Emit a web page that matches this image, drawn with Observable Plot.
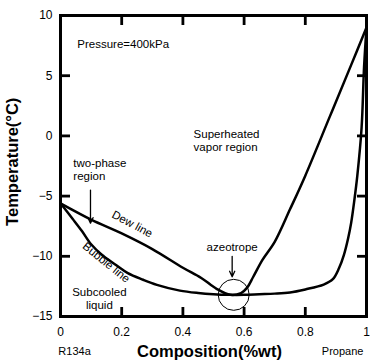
<!DOCTYPE html>
<html><head><meta charset="utf-8">
<script src="https://cdn.jsdelivr.net/npm/d3@7"></script>
<script src="https://cdn.jsdelivr.net/npm/@observablehq/plot@0.6"></script>
<style>body{margin:0;background:#fff} svg{display:block}</style>
</head><body><div id="chart"></div>
<script>
// Dew line (vapor) data
const dewComp = [0, 0.1, 0.2, 0.3, 0.4, 0.46, 0.51, 0.555, 0.59, 0.61, 0.63, 0.66, 0.7, 0.75, 0.8, 0.88, 0.95, 1];
const dewTemp = [-5.6, -6.95, -8.1, -9.4, -10.95, -11.8, -12.7, -13.2, -13.05, -12.6, -11.7, -10.3, -8.8, -6.1, -3.3, 1.6, 5.9, 9.0];
// Bubble line (liquid) data
const bubbleComp = [0, 0.04, 0.07, 0.1, 0.135, 0.18, 0.22, 0.27, 0.315, 0.39, 0.45, 0.5, 0.55, 0.6, 0.65, 0.7, 0.75, 0.8, 0.86, 0.89, 0.91, 0.926, 0.94, 0.95, 0.96, 0.97, 0.984, 0.992, 1];
const bubbleTemp = [-5.6, -6.9, -7.9, -9.0, -9.87, -10.7, -11.4, -11.95, -12.37, -12.85, -13.05, -13.15, -13.2, -13.2, -13.15, -13.1, -13.0, -12.75, -12.35, -11.9, -11.0, -9.9, -8.5, -7.2, -5.4, -3.3, 0.7, 5.7, 9.0];
// Axis ticks
const xTicks = [0, 0.2, 0.4, 0.6, 0.8, 1];
const yTicks = [-15, -10, -5, 0, 5, 10];
const xInner = [0.2, 0.4, 0.6, 0.8];
const yInner = [-10, -5, 0, 5];
// Annotations
const azeo = [{x: 0.566, y: -13.2}];
const arrows = [
  {x1: 0.098, y1: -4.5, x2: 0.098, y2: -7.25},
  {x1: 0.561, y1: -10.0, x2: 0.561, y2: -11.7}
];
const notesStart = [
  {x: 0.055, y: 7.67, text: "Pressure=400kPa"},
  {x: 0.042, y: -2.8, text: "two-phase\nregion"},
  {x: 0.435, y: -0.4, text: "Superheated\nvapor region"}
];
const notesMiddle = [
  {x: 0.127, y: -13.5, text: "Subcooled\nliquid", rotate: 0},
  {x: 0.561, y: -9.25, text: "azeotrope", rotate: 0},
  {x: 0.235, y: -7.3, text: "Dew line", rotate: 28},
  {x: 0.15, y: -10.5, text: "Bubble line", rotate: 39}
];
const leftEnd = [{x: -0.007, y: -17.9, text: "R134a"}];
const rightEnd = [{x: 0.99, y: -17.9, text: "Propane"}];
const xTitle = [{x: 0.487, y: -17.9, text: "Composition(%wt)"}];
const yTitle = [{x: -0.155, y: -2.15, text: "Temperature(°C)"}];

// inward tick length (≈9.5 px) expressed in data units of each axis
const x0 = xTicks[0], x1 = xTicks[xTicks.length - 1];
const y0 = yTicks[0], y1 = yTicks[yTicks.length - 1];
const tickLenX = 9.5 * (x1 - x0) / 306;
const tickLenY = 9.5 * (y1 - y0) / 301;

const font = "Liberation Sans, Arial, sans-serif";
const tickStyle = {stroke: "#000", strokeWidth: 2.8};
const chart = Plot.plot({
  width: 372, height: 363,
  marginLeft: 60, marginRight: 6, marginTop: 15, marginBottom: 47,
  style: {fontFamily: font, background: "#fff", color: "#000"},
  x: {domain: [x0, x1]},
  y: {domain: [y0, y1]},
  marks: [
    Plot.axisX(xTicks, {tickSize: 0, tickPadding: 11, fontSize: 12, label: null, tickFormat: d => d === 0 || d === 1 ? String(d) : d.toFixed(1)}),
    Plot.axisY(yTicks, {tickSize: 0, tickPadding: 8, fontSize: 12, label: null}),
    Plot.link(xInner, {x1: d => d, x2: d => d, y1: d => y0, y2: d => y0 + tickLenY, ...tickStyle}),
    Plot.link(xInner, {x1: d => d, x2: d => d, y1: d => y1, y2: d => y1 - tickLenY, ...tickStyle}),
    Plot.link(yInner, {y1: d => d, y2: d => d, x1: d => x0, x2: d => x0 + tickLenX, ...tickStyle}),
    Plot.link(yInner, {y1: d => d, y2: d => d, x1: d => x1, x2: d => x1 - tickLenX, ...tickStyle}),
    Plot.line(dewComp, {x: d => d, y: (d, i) => dewTemp[i], stroke: "#000", strokeWidth: 2.5, curve: "catmull-rom"}),
    Plot.line(bubbleComp, {x: d => d, y: (d, i) => bubbleTemp[i], stroke: "#000", strokeWidth: 2.5, curve: "catmull-rom"}),
    Plot.dot(azeo, {x: "x", y: "y", r: 15.5, stroke: "#000", strokeWidth: 1, fill: "none"}),
    Plot.arrow(arrows, {x1: "x1", y1: "y1", x2: "x2", y2: "y2", stroke: "#000", strokeWidth: 1.3, headLength: 7, headAngle: 50}),
    Plot.text(notesStart, {x: "x", y: "y", text: "text", textAnchor: "start", fontSize: 11.5, lineHeight: 1.1, fill: "#000"}),
    Plot.text(notesMiddle, {x: "x", y: "y", text: "text", textAnchor: "middle", rotate: "rotate", fontSize: 11.5, lineHeight: 1.1, fill: "#000"}),
    Plot.text(leftEnd, {x: "x", y: "y", text: "text", textAnchor: "start", fontSize: 11, fill: "#000"}),
    Plot.text(rightEnd, {x: "x", y: "y", text: "text", textAnchor: "end", fontSize: 11, fill: "#000"}),
    Plot.text(xTitle, {x: "x", y: "y", text: "text", fontSize: 16.5, fontWeight: "bold", fill: "#000"}),
    Plot.text(yTitle, {x: "x", y: "y", text: "text", rotate: -90, fontSize: 16.5, fontWeight: "bold", fill: "#000"}),
    Plot.frame({stroke: "#000", strokeWidth: 3})
  ]
});
document.getElementById("chart").append(chart);
</script>
</body></html>
